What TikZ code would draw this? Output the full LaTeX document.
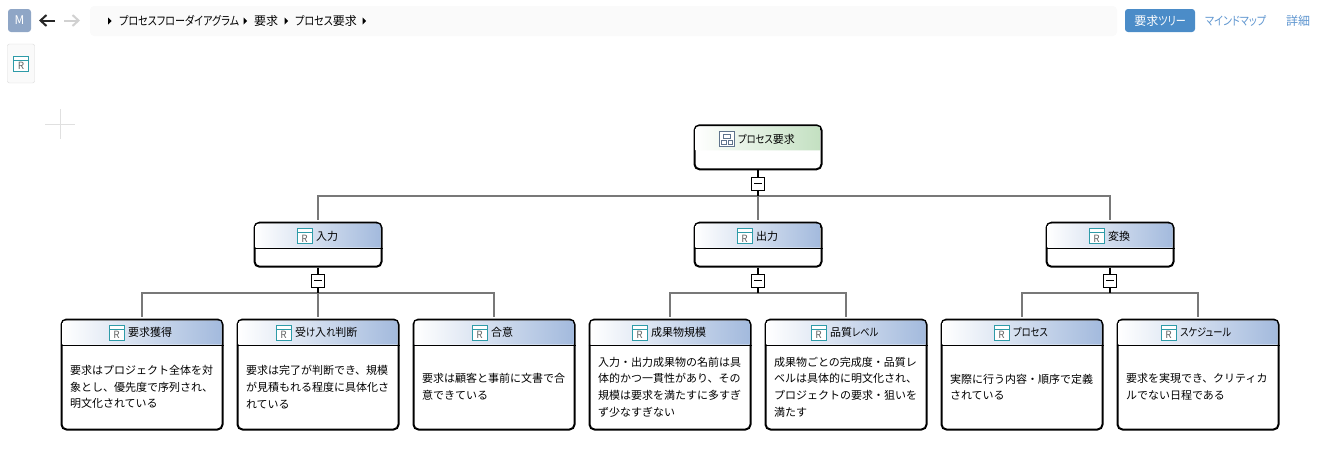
\documentclass[tikz,border=0pt]{standalone}
\usepackage{fontspec}
\usetikzlibrary{positioning,arrows.meta}
\setmainfont{Noto Sans CJK JP}[RawFeature=+palt]
\newfontfamily\bodyfont{Noto Sans CJK JP}
\newfontfamily\narrowfont{Noto Sans CJK JP}[RawFeature=+palt,FakeStretch=0.84]

\definecolor{headblue}{HTML}{A3BADD}
\definecolor{headgreen}{HTML}{C3E0C1}
\definecolor{icteal}{HTML}{2E9BA8}
\definecolor{icslate}{HTML}{5F738C}
\definecolor{busgray}{HTML}{787878}
\definecolor{linkblue}{HTML}{5E95CF}
\definecolor{btnblue}{HTML}{4B8CC8}
\definecolor{avatarblue}{HTML}{8FA6C6}

\tikzset{
    bigbox/.style={draw=black,fill=white,line width=2pt,rounded corners=5pt,inner sep=0pt,minimum width=127pt},
    rootbox/.style={bigbox,minimum height=44pt},
    leafbox/.style={bigbox,minimum width=161pt,minimum height=110pt},
    headtext/.style={anchor=west,inner sep=0pt,font=\fontsize{11}{13}\selectfont},
    bodytext/.style={align=left,text width=144pt,inner sep=0pt,font=\bodyfont\fontsize{11}{16.7}\selectfont},
    crumb/.style={anchor=west,inner sep=0pt,font=\fontsize{12}{14}\selectfont},
    ricon/.style={draw=icteal,fill=white,line width=1pt,minimum size=15pt,inner sep=0pt,text=black!60,
        font=\fontsize{10}{10}\selectfont,
        path picture={\draw[icteal,line width=1pt] ([yshift=-4pt]path picture bounding box.north west) -- ([yshift=-4pt]path picture bounding box.north east);}},
    toggle/.style={draw=black,fill=white,line width=1pt,minimum size=13pt,inner sep=0pt,
        path picture={\draw[black,line width=1pt] ([xshift=-4pt]path picture bounding box.center) -- ([xshift=4pt]path picture bounding box.center);}},
    elbow/.style={to path={-| (\tikztotarget)}}
}

\newcommand{\nar}[1]{{\narrowfont #1}}
\newcommand{\rmark}{\raisebox{-6pt}[0pt][0pt]{R}}
\newcommand{\headbar}[2]{
    \shade[left color=white,right color=#2] ([xshift=2pt,yshift=-26pt]#1.north west) [rounded corners=3pt] -- ([xshift=2pt,yshift=-2pt]#1.north west) -- ([xshift=-2pt,yshift=-2pt]#1.north east) [sharp corners] -- ([xshift=-2pt,yshift=-26pt]#1.north east) -- cycle;
}

\begin{document}
\begin{tikzpicture}[x=1pt,y=-1pt]
    \useasboundingbox (0,0) rectangle (1322,474);

    % top bar
    \fill[black!2,rounded corners=4pt] (90,6) rectangle (1117,36);
    \node[fill=avatarblue,rounded corners=3pt,minimum size=23pt,inner sep=0pt,text=white,font=\fontsize{12}{14}\selectfont] (avatar) at (19.5,20.5) {M};
    \coordinate (backstart) at (55,20.5);
    \coordinate (backend) at (39,20.5);
    \coordinate (nextstart) at (64,20.5);
    \coordinate (nextend) at (80,20.5);
    \draw[line width=2pt,black!85,-{Straight Barb[length=6pt,width=11pt]}] (backstart) -- (backend);
    \draw[line width=2pt,black!18,-{Straight Barb[length=6pt,width=11pt]}] (nextstart) -- (nextend);

    \foreach \x in {108,243.5,284.5,362.5} {
        \fill[black] (\x,17.5) -- (\x+3.5,21) -- (\x,24.5) -- cycle;
    }
    \node[crumb] (crumb1) at (119,20.5) {\nar{プロセスフローダイアグラム}};
    \node[crumb] (crumb2) at (254,20.5) {要求};
    \node[crumb] (crumb3) at (295,20.5) {\nar{プロセス}要求};

    \node[fill=btnblue,rounded corners=3pt,minimum width=70pt,minimum height=23pt,inner sep=0pt,text=white,font=\fontsize{12}{14}\selectfont] (treebtn) at (1160,20.5) {要求\nar{ツリー}};
    \node[crumb,text=linkblue] (mapbtn) at (1205,21) {\nar{マインドマップ}};
    \node[crumb,text=linkblue] (detailbtn) at (1286,21) {詳細};

    % side button and plus
    \node[draw=black!15,fill=black!2,rounded corners=2pt,minimum width=27pt,minimum height=39pt,inner sep=0pt] (sidebtn) at (21,63.5) {};
    \node[ricon] (sideicon) at (21,63.5) {\rmark};
    \draw[black!12] (45,124) -- (75,124);
    \draw[black!12] (60,109) -- (60,139);

    % boxes
    \node[rootbox] (root) at (758,147.3) {};
    \node[rootbox] (input) at (318,244.7) {};
    \node[rootbox] (output) at (758,244.7) {};
    \node[rootbox] (trans) at (1110,244.7) {};

    \node[leafbox] (acq) at (142,374.5) {};
    \node[leafbox] (judge) at (318,374.5) {};
    \node[leafbox] (agree) at (494,374.5) {};
    \node[leafbox] (size) at (670,374.5) {};
    \node[leafbox] (quality) at (846,374.5) {};
    \node[leafbox] (proc) at (1022,374.5) {};
    \node[leafbox] (sched) at (1198,374.5) {};

    \headbar{root}{headgreen}
    \foreach \b in {input,output,trans,acq,judge,agree,size,quality,proc,sched} {
        \headbar{\b}{headblue}
        \draw[black,line width=1pt] ([yshift=-26.5pt]\b.north west) -- ([yshift=-26.5pt]\b.north east);
    }

    % header labels
    \node[headtext] (roottext) at (738,139) {\nar{プロセス}要求};
    \node[draw=icslate,fill=white,line width=1pt,minimum size=15pt,inner sep=0pt,left=3pt of roottext] (rooticon) {};
    \draw[icslate,line width=1pt] ([shift={(-3.5,-5)}]rooticon.center) rectangle ([shift={(3.5,-1)}]rooticon.center);
    \draw[icslate,line width=1pt] ([shift={(-5.5,1.5)}]rooticon.center) rectangle ([shift={(-1,5)}]rooticon.center);
    \draw[icslate,line width=1pt] ([shift={(1,1.5)}]rooticon.center) rectangle ([shift={(5.5,5)}]rooticon.center);

    \node[headtext] (inputtext) at (316,236) {入力};
    \node[headtext] (outputtext) at (756,236) {出力};
    \node[headtext] (transtext) at (1108,236) {変換};
    \node[ricon,left=3.5pt of inputtext] (inputicon) {\rmark};
    \node[ricon,left=3.5pt of outputtext] (outputicon) {\rmark};
    \node[ricon,left=3.5pt of transtext] (transicon) {\rmark};

    \node[headtext] (acqtext) at (128,332.5) {要求獲得};
    \node[headtext] (judgetext) at (295,332.5) {受\nar{け}入\nar{れ}判断};
    \node[headtext] (agreetext) at (491,332.5) {合意};
    \node[headtext] (sizetext) at (651,332.5) {成果物規模};
    \node[headtext] (qualitytext) at (830,332.5) {品質\nar{レベル}};
    \node[headtext] (proctext) at (1013,332.5) {\nar{プロセス}};
    \node[headtext] (schedtext) at (1180,332.5) {\nar{スケジュール}};
    \node[ricon,left=3.5pt of acqtext] (acqicon) {\rmark};
    \node[ricon,left=3.5pt of judgetext] (judgeicon) {\rmark};
    \node[ricon,left=3.5pt of agreetext] (agreeicon) {\rmark};
    \node[ricon,left=3.5pt of sizetext] (sizeicon) {\rmark};
    \node[ricon,left=3.5pt of qualitytext] (qualityicon) {\rmark};
    \node[ricon,left=3.5pt of proctext] (procicon) {\rmark};
    \node[ricon,left=3.5pt of schedtext] (schedicon) {\rmark};

    % body texts
    \node[bodytext] (acqbody) at (142,387) {要求はプロジェクト全体を対\\象とし、優先度で序列され、\\明文化されている};
    \node[bodytext] (judgebody) at (318,387) {要求は完了が判断でき、規模\\が見積もれる程度に具体化さ\\れている};
    \node[bodytext] (agreebody) at (494,387) {要求は顧客と事前に文書で合\\意できている};
    \node[bodytext] (sizebody) at (670,387) {入力・出力成果物の名前は具\\体的かつ一貫性があり、その\\規模は要求を満たすに多すぎ\\ず少なすぎない};
    \node[bodytext] (qualitybody) at (846,387) {成果物ごとの完成度・品質レ\\ベルは具体的に明文化され、\\プロジェクトの要求・狙いを\\満たす};
    \node[bodytext] (procbody) at (1022,387) {実際に行う内容・順序で定義\\されている};
    \node[bodytext] (schedbody) at (1198,387) {要求を実現でき、クリティカ\\ルでない日程である};

    % toggles and bus points
    \node[toggle] (togroot) at (758,183.5) {};
    \node[toggle] (toginput) at (318,280.5) {};
    \node[toggle] (togoutput) at (758,280.5) {};
    \node[toggle] (togtrans) at (1110,280.5) {};
    \coordinate (busroot) at (758,196);
    \coordinate (businput) at (318,293);
    \coordinate (busoutput) at (758,293);
    \coordinate (bustrans) at (1110,293);

    % connectors
    \begin{scope}[every edge/.style={draw,busgray,line width=2pt,shorten >=1.5pt}]
        \path [-] (busroot) edge[elbow] (input);
        \path [-] (busroot) edge (output);
        \path [-] (busroot) edge[elbow] (trans);

        \path [-] (businput) edge[elbow] (acq);
        \path [-] (businput) edge (judge);
        \path [-] (businput) edge[elbow] (agree);

        \path [-] (busoutput) edge[elbow] (size);
        \path [-] (busoutput) edge[elbow] (quality);

        \path [-] (bustrans) edge[elbow] (proc);
        \path [-] (bustrans) edge[elbow] (sched);
    \end{scope}
    \begin{scope}[every edge/.style={draw,black,line width=1.5pt}]
        \path [-] (root) edge (togroot);
        \path [-] (togroot) edge (busroot);
        \path [-] (input) edge (toginput);
        \path [-] (toginput) edge (businput);
        \path [-] (output) edge (togoutput);
        \path [-] (togoutput) edge (busoutput);
        \path [-] (trans) edge (togtrans);
        \path [-] (togtrans) edge (bustrans);
    \end{scope}
\end{tikzpicture}
\end{document}
